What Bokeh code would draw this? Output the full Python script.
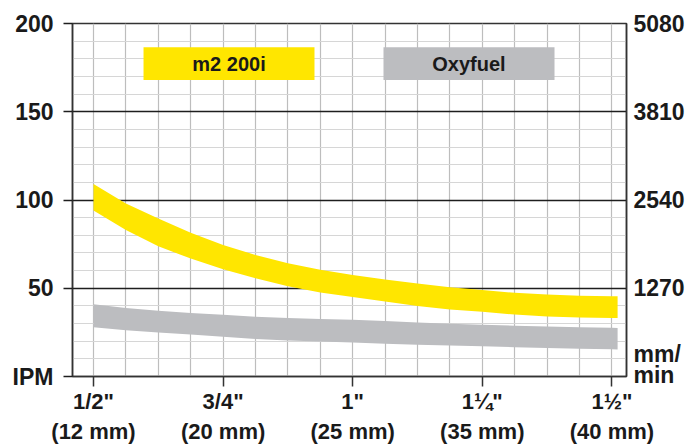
from bokeh.plotting import figure
from bokeh.models import Range1d, LinearAxis, FixedTicker, BoxAnnotation, Label
from bokeh.embed import file_html
from bokeh.resources import INLINE

# ---- data ----
thickness_in = [0.5, 0.5625, 0.625, 0.6875, 0.75, 0.8125, 0.875, 0.9375, 1.0,
                1.0625, 1.125, 1.1875, 1.25, 1.3125, 1.375, 1.4375, 1.5, 1.511]
m2_upper = [109, 98, 89.5, 81.5, 74.5, 68.8, 64.2, 60.5, 57.5,
            55.0, 52.7, 50.6, 49.0, 47.4, 46.4, 45.8, 45.5, 45.5]
m2_lower = [94, 83, 73.8, 66.8, 60.8, 55.6, 51.2, 47.6, 45.0,
            42.5, 40.0, 38.0, 36.7, 35.1, 34.0, 33.4, 33.1, 33.1]
oxy_upper = [41.0, 38.8, 37.3, 36.0, 35.0, 33.9, 33.1, 32.6, 32.2,
             31.4, 30.6, 29.9, 29.3, 28.8, 28.3, 27.9, 27.6, 27.5]
oxy_lower = [27.9, 26.2, 25.0, 23.8, 22.5, 21.2, 20.4, 19.8, 19.2,
             18.6, 18.0, 17.5, 17.1, 16.6, 16.1, 15.7, 15.4, 15.3]

x_ticks = [0.5, 0.75, 1.0, 1.25, 1.5]
x_labels = ['1/2"\n(12 mm)', '3/4"\n(20 mm)', '1"\n(25 mm)', '1\u00bc"\n(35 mm)', '1\u00bd"\n(40 mm)']
x_grid = [0.5 + 0.0625 * i for i in range(17)]

ipm_ticks = [0, 50, 100, 150, 200]
ipm_labels = ["IPM", "50", "100", "150", "200"]
ipm_minor = [v for v in range(10, 200, 10) if v % 50 != 0]

mm_ticks = [170, 1270, 2540, 3810, 5080]
mm_labels = ["mm/\nmin", "1270", "2540", "3810", "5080"]

series_names = ["m2 200i", "Oxyfuel"]
YELLOW = "#FFE600"
GRAY = "#BCBDC0"
FONT = "Liberation Sans"

p = figure(width=690, height=447, output_backend="svg", toolbar_location=None,
           x_range=Range1d(0.45949, 1.52816), y_range=Range1d(0, 200),
           min_border_left=72, min_border_right=64, min_border_top=23, min_border_bottom=68,
           background_fill_color="white", border_fill_color="white")

p.outline_line_color = "#333333"
p.outline_line_width = 1.5

# grids
p.xgrid.ticker = FixedTicker(ticks=x_grid)
p.xgrid.grid_line_color = "#bdbdbd"
p.xgrid.grid_line_width = 1.2
p.ygrid.ticker = FixedTicker(ticks=[50, 100, 150, 200], minor_ticks=ipm_minor)
p.ygrid.grid_line_color = "#1e1e1e"
p.ygrid.grid_line_width = 1.4
p.ygrid.minor_grid_line_color = "#d6d6d6"
p.ygrid.minor_grid_line_width = 1.2

# bands
p.varea(x=thickness_in, y1=m2_lower, y2=m2_upper, fill_color=YELLOW)
p.varea(x=thickness_in, y1=oxy_lower, y2=oxy_upper, fill_color=GRAY)

# x axis
xa = p.xaxis[0]
xa.ticker = FixedTicker(ticks=x_ticks, minor_ticks=[])
xa.major_label_overrides = {t: l for t, l in zip(x_ticks, x_labels)}
xa.major_tick_out = 10
xa.major_tick_in = 0
xa.major_tick_line_color = "#333333"
xa.major_tick_line_width = 1.5
xa.minor_tick_line_color = None
xa.axis_line_color = "#333333"
xa.axis_line_width = 1.5
xa.major_label_text_font = FONT
xa.major_label_text_font_style = "bold"
xa.major_label_text_font_size = "22px"
xa.major_label_text_color = "#1a1a1a"
xa.major_label_text_line_height = 1.22
xa.major_label_standoff = 2

# left axis
ya = p.yaxis[0]
ya.ticker = FixedTicker(ticks=ipm_ticks, minor_ticks=[])
ya.major_label_overrides = {t: l for t, l in zip(ipm_ticks, ipm_labels)}
ya.major_tick_out = 9
ya.major_tick_in = 0
ya.major_tick_line_color = "#1e1e1e"
ya.major_tick_line_width = 1.4
ya.minor_tick_line_color = None
ya.axis_line_color = "#333333"
ya.axis_line_width = 1.5
ya.major_label_text_font = FONT
ya.major_label_text_font_style = "bold"
ya.major_label_text_font_size = "23px"
ya.major_label_text_color = "#1a1a1a"
ya.major_label_standoff = 10

# right axis (mm/min)
p.extra_y_ranges = {"mm": Range1d(0, 5080)}
ra = LinearAxis(y_range_name="mm")
ra.ticker = FixedTicker(ticks=mm_ticks, minor_ticks=[])
ra.major_label_overrides = {t: l for t, l in zip(mm_ticks, mm_labels)}
ra.major_tick_out = 0
ra.major_tick_in = 0
ra.minor_tick_line_color = None
ra.axis_line_color = "#333333"
ra.axis_line_width = 1.5
ra.major_label_text_font = FONT
ra.major_label_text_font_style = "bold"
ra.major_label_text_font_size = "23px"
ra.major_label_text_color = "#1a1a1a"
ra.major_label_text_line_height = 0.82
ra.major_label_standoff = 7
p.add_layout(ra, "right")

# legend boxes
p.add_layout(BoxAnnotation(left=0.5965, right=0.9263, bottom=168, top=186.5,
                           fill_color=YELLOW, fill_alpha=1, line_color=None))
p.add_layout(BoxAnnotation(left=1.0594, right=1.3893, bottom=168, top=186.5,
                           fill_color=GRAY, fill_alpha=1, line_color=None))
for cx, name in zip([0.7614, 1.2243], series_names):
    p.add_layout(Label(x=cx, y=177.2, text=name, text_align="center", text_baseline="middle",
                       text_font=FONT, text_font_style="bold", text_font_size="20px",
                       text_color="#1a1a1a"))

open("out.html", "w").write(file_html(p, INLINE))
